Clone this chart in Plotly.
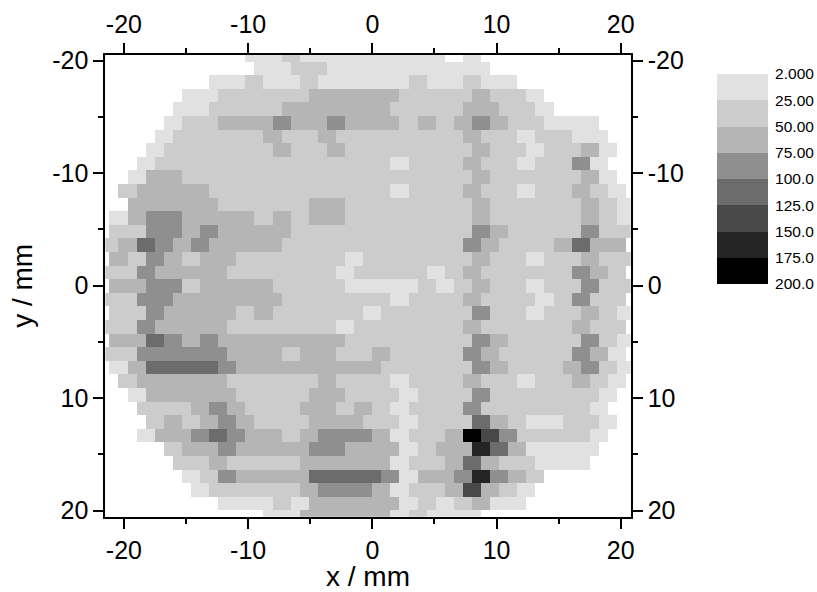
import numpy as np
import plotly.graph_objects as go

# One string per scan row, one character per cell: the contour band (1-8), '.' = no data
ROWS = [
    "........11211111111.1.........",
    ".........11221111111" + "11........",
    "......11211211111211211.......",
    ".....11222223333322223221.....",
    "....11222233333322223" + "3221.....",
    "....1223334334333232" + "34322111..",
    "...12222232232222222" + "32212211..",
    "...12222223223222222" + "232212231.",
    "..122222222222221222" + "32212241..",
    "..133222222222222222" + "232222231.",
    ".23333222222222" + "21222" + "322122321.",
    "..333332222233222222" + "2322222321",
    ".1344333323233222222" + "2322222321",
    ".2244343333222222222" + "2432222422",
    "23543433332222222222" + "432223533.",
    ".3243233222222122222" + "2322122322",
    "22433332222221222212" + "322222432.",
    ".3344233332222111121" + "2322122422",
    "22443333332222221222" + "322212422.",
    ".2243333232222212222" + "2422122321",
    "22433332222221222222" + "322222322.",
    ".3354343333333222222" + "2432222421",
    "22444443332332232222" + "432222431.",
    ".1355554333333332222" + "2432223421",
    ".2333332222232221222" + "322122321.",
    "..133333222233222122" + "242222221.",
    "..222343222332321222" + "42222221..",
    "...23234322233322122" + "253211221.",
    "..133454332344431223" + "86422221..",
    "....2334333344333123" + "37531111..",
    "....2232222333331223" + "5322111...",
    ".....124333355554133" + "47432.....",
    ".....122222344431223" + "6321......",
    ".......1112133333121" + "2311......",
    ".........11333331211" + "1.........",
]
# Rows whose cells sit half a cell to the right of the others
SHIFTED_ROWS = [0, 2, 4, 6, 8, 10, 14, 16, 18, 20, 22, 24, 26, 28, 30, 32, 34]

BAND_VALUES = [13.5, 37.5, 62.5, 87.5, 112.5, 137.5, 162.5, 187.5]
BAND_COLORS = ["#e1e1e1", "#cccccc", "#b5b5b5", "#8f8f8f", "#6c6c6c", "#484848", "#242424", "#000000"]
LEGEND_LABELS = ["2.000", "25.00", "50.00", "75.00", "100.0", "125.0", "150.0", "175.0", "200.0"]
X_TICKS = [-20, -10, 0, 10, 20]
Y_TICKS = [-20, -10, 0, 10, 20]
X_RANGE = [-21.5, 20.8]
Y_RANGE = [20.54, -20.5]

CELL_W = 1.459
CELL_H = 1.209
X_ORIGIN = -22.63
Y_ORIGIN = -21.13
N_CELLS = 30

x_edges = X_ORIGIN + np.arange(2 * N_CELLS + 3) * CELL_W / 2
y_edges = Y_ORIGIN + np.arange(len(ROWS) + 1) * CELL_H

z = np.full((len(ROWS), 2 * N_CELLS + 2), np.nan)
for r, row in enumerate(ROWS):
    row = row.ljust(N_CELLS, ".")
    shift = 1 if r in SHIFTED_ROWS else 0
    for k, ch in enumerate(row):
        if ch != ".":
            v = BAND_VALUES[int(ch) - 1]
            z[r, 2 * k + shift] = v
            z[r, 2 * k + shift + 1] = v

n = len(BAND_COLORS)
scale = []
for i, c in enumerate(BAND_COLORS):
    scale += [[i / n, c], [(i + 1) / n, c]]

FONT = "Liberation Sans, Arial, sans-serif"
TICK = 25
fig = go.Figure()
fig.add_trace(go.Heatmap(x=x_edges, y=y_edges, z=z, colorscale=scale, zmin=0, zmax=200,
                         showscale=False, hoverongaps=False, xaxis="x", yaxis="y"))
# invisible trace keeps the top and right axes on the page
fig.add_trace(go.Scatter(x=X_RANGE, y=Y_RANGE, mode="markers", marker=dict(opacity=0),
                         showlegend=False, xaxis="x2", yaxis="y2"))
# stepped legend
fig.add_trace(go.Heatmap(x=[0, 1], y=np.arange(n + 1), z=[[v] for v in BAND_VALUES],
                         colorscale=scale, zmin=0, zmax=200, showscale=False,
                         xaxis="x3", yaxis="y3"))


def common(vals):
    return dict(tickmode="array", tickvals=vals, ticktext=[str(v) for v in vals],
                ticks="outside", ticklen=10, tickwidth=2, tickcolor="black",
                showline=True, linecolor="black", linewidth=2, showgrid=False, zeroline=False,
                tickfont=dict(family=FONT, size=TICK, color="black"),
                minor=dict(tickmode="array", tickvals=[-15, -5, 5, 15], ticks="outside",
                           ticklen=5, tickwidth=2, tickcolor="black", showgrid=False))


W, H = 817, 592
L, R, T, B = 105.3, 630.7, 55, 516.7
fig.update_layout(
    width=W, height=H, autosize=False, paper_bgcolor="white", plot_bgcolor="white",
    showlegend=False, margin=dict(l=0, r=0, t=0, b=0, autoexpand=False),
    xaxis=dict(range=X_RANGE, domain=[L / W, R / W], anchor="y", side="bottom",
               title=dict(text="x / mm", font=dict(family=FONT, size=28, color="black"), standoff=10),
               **common(X_TICKS)),
    yaxis=dict(range=Y_RANGE, domain=[1 - B / H, 1 - T / H], anchor="x", side="left",
               title=dict(text="y / mm", font=dict(family=FONT, size=28, color="black"), standoff=11),
               **common(Y_TICKS)),
    xaxis2=dict(range=X_RANGE, domain=[L / W, R / W], overlaying="x", anchor="y", side="top",
                **common(X_TICKS)),
    yaxis2=dict(range=Y_RANGE, domain=[1 - B / H, 1 - T / H], overlaying="y", anchor="x", side="right",
                **common(Y_TICKS)),
    xaxis3=dict(domain=[717 / W, 768 / W], anchor="y3", range=[0, 1], visible=False),
    yaxis3=dict(domain=[1 - 284 / H, 1 - 74 / H], anchor="x3", range=[n, 0], side="right",
                tickmode="array", tickvals=list(range(n + 1)), ticktext=LEGEND_LABELS,
                ticks="outside", ticklen=3, tickcolor="rgba(0,0,0,0)", showline=False,
                showgrid=False, zeroline=False,
                tickfont=dict(family=FONT, size=15.5, color="black")),
)
fig.write_html("out.html", config=dict(displayModeBar=False),
               post_script="document.body.style.margin='0';")
